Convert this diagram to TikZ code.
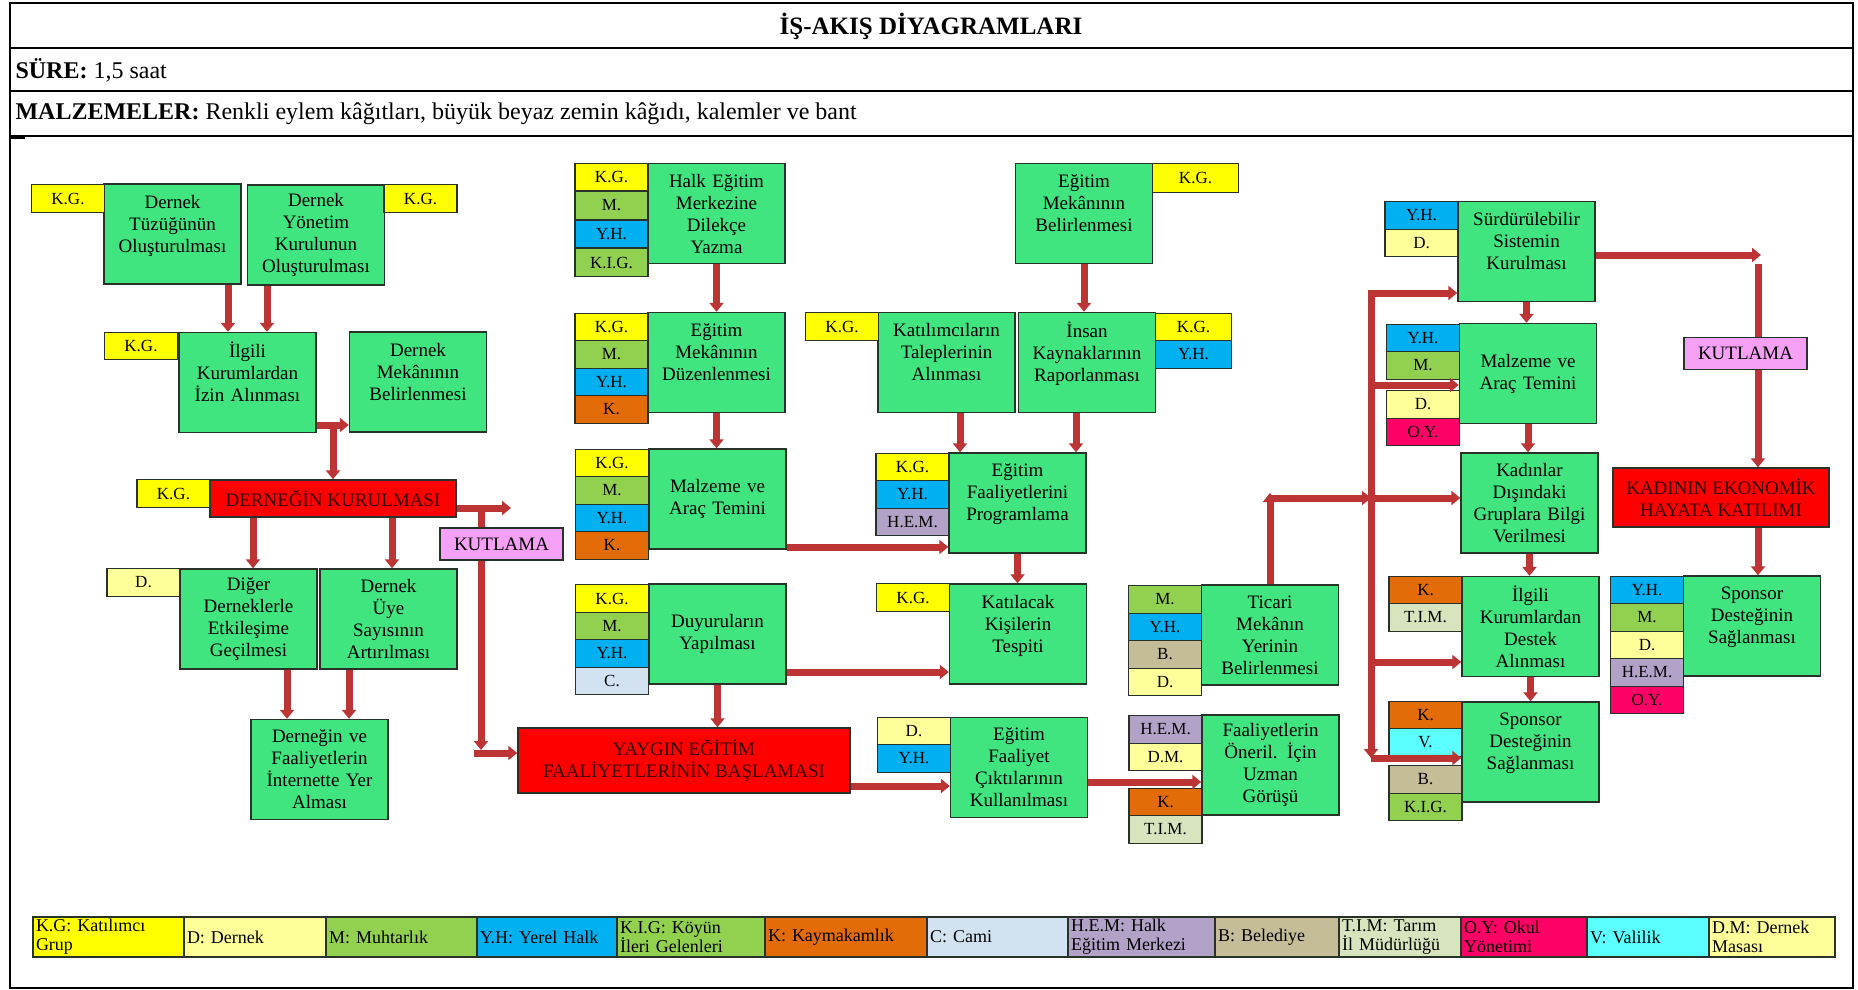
\documentclass[tikz,border=0pt]{standalone}
\usepackage{fontspec}
\setmainfont{Liberation Serif}
\usetikzlibrary{arrows.meta}

\definecolor{actgreen}{RGB}{64,229,128}
\definecolor{kgyel}{RGB}{255,255,0}
\definecolor{dyel}{RGB}{255,255,153}
\definecolor{mgreen}{RGB}{146,208,80}
\definecolor{yhblue}{RGB}{0,176,240}
\definecolor{korange}{RGB}{227,108,9}
\definecolor{ccami}{RGB}{210,226,240}
\definecolor{hemlil}{RGB}{178,162,199}
\definecolor{btan}{RGB}{196,189,151}
\definecolor{timgr}{RGB}{215,228,189}
\definecolor{oypink}{RGB}{255,0,102}
\definecolor{vcyan}{RGB}{91,255,255}
\definecolor{redbox}{RGB}{255,0,0}
\definecolor{goaltext}{RGB}{50,0,0}
\definecolor{kutpink}{RGB}{245,160,245}
\definecolor{flowred}{RGB}{188,52,52}
\definecolor{edge}{RGB}{40,50,40}

\tikzset{
  frame/.style={draw=black, line width=2pt},
  act/.style={draw=edge, line width=1.4pt, fill=actgreen, minimum width=137pt,
    minimum height=100pt, text width=133pt, align=center, inner sep=0pt,
    font=\fontsize{19}{22}\selectfont},
  hi/.style={execute at end node={\rule[-21pt]{0pt}{0pt}}},
  tag/.style={draw=edge, line width=1.4pt, minimum width=73pt, minimum height=27.5pt,
    inner sep=0pt, font=\fontsize{17}{20}\selectfont},
  goal/.style={draw=edge, line width=1.4pt, fill=redbox, align=center, inner sep=0pt,
    text=goaltext, font=\fontsize{19}{22}\selectfont},
  party/.style={draw=edge, line width=1.4pt, fill=kutpink, minimum width=123pt,
    minimum height=32pt, inner sep=0pt, font=\fontsize{19}{22}\selectfont},
  flow/.style={draw=flowred, line width=7pt, -{Triangle[length=9pt,width=14pt]}},
  key/.style={draw=edge, line width=1.2pt, minimum height=40pt, inner xsep=3pt,
    inner ysep=1pt, align=left, font=\fontsize{18}{19}\selectfont},
}

\begin{document}
\begin{tikzpicture}[x=1pt, y=-1pt]
      \useasboundingbox (0,0) rectangle (1858,990);
      % frame and header rows
      \draw[frame] (10,3) rectangle (1853,988);
      \draw[frame] (10,48) -- (1853,48);
      \draw[frame] (10,91) -- (1853,91);
      \draw[frame] (10,136) -- (1853,136);
      \draw[line width=2.5pt] (10,138) -- (25,138);
      \node[font=\bfseries\fontsize{25}{28}\selectfont] (title) at (931,26) {İŞ-AKIŞ DİYAGRAMLARI};
      \node[anchor=west, font=\fontsize{24}{28}\selectfont] (sure) at (12,70) {\textbf{SÜRE:} 1,5 saat};
      \node[anchor=west, font=\fontsize{24}{28}\selectfont] (malzeme) at (12,114)
        {\textbf{MALZEMELER:} Renkli eylem kâğıtları, büyük beyaz zemin kâğıdı, kalemler ve bant};

      % activities
      \node[act, hi] (tuzuk) at (172.5,234) {Dernek\\Tüzüğünün\\Oluşturulması};
      \node[act] (yonetim) at (316,235) {Dernek\\Yönetim\\Kurulunun\\Oluşturulması};
      \node[act, hi] (ilgili) at (247.5,382.5) {İlgili\\Kurumlardan\\İzin Alınması};
      \node[act, hi] (dmekan) at (418,382) {Dernek\\Mekânının\\Belirlenmesi};
      \node[act] (diger) at (248.5,619) {Diğer\\Derneklerle\\Etkileşime\\Geçilmesi};
      \node[act] (uye) at (388.5,619) {Dernek\\Üye\\Sayısının\\Artırılması};
      \node[act] (internet) at (319.5,769.5) {Derneğin ve\\Faaliyetlerin\\İnternette Yer\\Alması};
      \node[act] (halk) at (716.5,213.5) {Halk Eğitim\\Merkezine\\Dilekçe\\Yazma};
      \node[act, hi] (duzen) at (716.5,362.5) {Eğitim\\Mekânının\\Düzenlenmesi};
      \node[act] (malz1) at (717.5,499) {Malzeme ve\\Araç Temini};
      \node[act] (duyuru) at (717.5,634) {Duyuruların\\Yapılması};
      \node[act, hi] (katilim) at (946.5,362.5) {Katılımcıların\\Taleplerinin\\Alınması};
      \node[act, hi] (mekanb) at (1084,213.5) {Eğitim\\Mekânının\\Belirlenmesi};
      \node[act, hi] (insan) at (1087,362.5) {İnsan\\Kaynaklarının\\Raporlanması};
      \node[act, hi] (prog) at (1017.5,503) {Eğitim\\Faaliyetlerini\\Programlama};
      \node[act, hi] (katilacak) at (1018,634) {Katılacak\\Kişilerin\\Tespiti};
      \node[act] (ciktilar) at (1019,767.5) {Eğitim\\Faaliyet\\Çıktılarının\\Kullanılması};
      \node[act] (ticari) at (1270,635) {Ticari\\Mekânın\\Yerinin\\Belirlenmesi};
      \node[act] (oneril) at (1270.5,765) {Faaliyetlerin\\Öneril. İçin\\Uzman\\Görüşü};
      \node[act, hi] (surd) at (1526.5,251.5) {Sürdürülebilir\\Sistemin\\Kurulması};
      \node[act] (malz2) at (1528,373.5) {Malzeme ve\\Araç Temini};
      \node[act] (kadinlar) at (1529.5,503) {Kadınlar\\Dışındaki\\Gruplara Bilgi\\Verilmesi};
      \node[act] (ilgilid) at (1530.5,626.5) {İlgili\\Kurumlardan\\Destek\\Alınması};
      \node[act, hi] (sponsorl) at (1530.5,752) {Sponsor\\Desteğinin\\Sağlanması};
      \node[act, hi] (sponsorr) at (1752,626) {Sponsor\\Desteğinin\\Sağlanması};

      % goals
      \node[goal, minimum width=246pt, minimum height=37pt] (kurul) at (333,498.5) {DERNEĞİN KURULMASI};
      \node[goal, minimum width=332pt, minimum height=65pt] (yaygin) at (684,760.5) {YAYGIN EĞİTİM\\FAALİYETLERİNİN BAŞLAMASI};
      \node[goal, minimum width=216pt, minimum height=59pt] (kadinin) at (1721,497.5) {KADININ EKONOMİK\\HAYATA KATILIMI};

      % participants
      \node[tag, fill=kgyel] (t1) at (68,198.5) {K.G.};
      \node[tag, fill=kgyel] (t2) at (420.5,198.5) {K.G.};
      \node[tag, fill=kgyel] (t3) at (141,346) {K.G.};
      \node[tag, fill=kgyel] (t4) at (173.5,493.5) {K.G.};
      \node[tag, fill=dyel] (t5) at (143.5,582.5) {D.};
      \node[tag, fill=kgyel] (t6) at (611.5,177) {K.G.};
      \node[tag, fill=mgreen] (t7) at (611.5,205.5) {M.};
      \node[tag, fill=yhblue] (t8) at (611.5,234) {Y.H.};
      \node[tag, fill=mgreen] (t9) at (611.5,262.5) {K.I.G.};
      \node[tag, fill=kgyel] (t10) at (611.5,327) {K.G.};
      \node[tag, fill=mgreen] (t11) at (611.5,354.5) {M.};
      \node[tag, fill=yhblue] (t12) at (611.5,382) {Y.H.};
      \node[tag, fill=korange] (t13) at (611.5,409.5) {K.};
      \node[tag, fill=kgyel] (t14) at (612,463) {K.G.};
      \node[tag, fill=mgreen] (t15) at (612,490.5) {M.};
      \node[tag, fill=yhblue] (t16) at (612,518) {Y.H.};
      \node[tag, fill=korange] (t17) at (612,545.5) {K.};
      \node[tag, fill=kgyel] (t18) at (612,598.5) {K.G.};
      \node[tag, fill=mgreen] (t19) at (612,626) {M.};
      \node[tag, fill=yhblue] (t20) at (612,653.5) {Y.H.};
      \node[tag, fill=ccami] (t21) at (612,681) {C.};
      \node[tag, fill=kgyel] (t22) at (842,326.5) {K.G.};
      \node[tag, fill=kgyel, minimum width=86pt, minimum height=29pt] (t23) at (1195.5,178) {K.G.};
      \node[tag, fill=kgyel, minimum width=76pt] (t24) at (1193.5,327) {K.G.};
      \node[tag, fill=yhblue, minimum width=76pt] (t25) at (1193.5,354.5) {Y.H.};
      \node[tag, fill=kgyel] (t26) at (912.5,467) {K.G.};
      \node[tag, fill=yhblue] (t27) at (912.5,494.5) {Y.H.};
      \node[tag, fill=hemlil] (t28) at (912.5,522) {H.E.M.};
      \node[tag, fill=kgyel] (t29) at (913,597.5) {K.G.};
      \node[tag, fill=dyel] (t30) at (914,731) {D.};
      \node[tag, fill=yhblue] (t31) at (914,758.5) {Y.H.};
      \node[tag, fill=mgreen] (t32) at (1165,599.5) {M.};
      \node[tag, fill=yhblue] (t33) at (1165,627) {Y.H.};
      \node[tag, fill=btan] (t34) at (1165,654.5) {B.};
      \node[tag, fill=dyel] (t35) at (1165,682) {D.};
      \node[tag, fill=hemlil] (t36) at (1165.5,729.5) {H.E.M.};
      \node[tag, fill=dyel] (t37) at (1165.5,757) {D.M.};
      \node[tag, fill=korange] (t38) at (1165.5,802) {K.};
      \node[tag, fill=timgr] (t39) at (1165.5,829.5) {T.I.M.};
      \node[tag, fill=yhblue] (t40) at (1421.5,215.5) {Y.H.};
      \node[tag, fill=dyel] (t41) at (1421.5,243) {D.};
      \node[tag, fill=yhblue] (t42) at (1423,338) {Y.H.};
      \node[tag, fill=mgreen] (t43) at (1423,365.5) {M.};
      \node[tag, fill=dyel] (t44) at (1423,404.5) {D.};
      \node[tag, fill=oypink] (t45) at (1423,432) {O.Y.};
      \node[tag, fill=korange] (t46) at (1425.5,590) {K.};
      \node[tag, fill=timgr] (t47) at (1425.5,617.5) {T.I.M.};
      \node[tag, fill=korange] (t48) at (1425.5,715) {K.};
      \node[tag, fill=vcyan] (t49) at (1425.5,742.5) {V.};
      \node[tag, fill=btan] (t50) at (1425.5,779.5) {B.};
      \node[tag, fill=mgreen] (t51) at (1425.5,807) {K.I.G.};
      \node[tag, fill=yhblue] (t52) at (1647,590) {Y.H.};
      \node[tag, fill=mgreen] (t53) at (1647,617.5) {M.};
      \node[tag, fill=dyel] (t54) at (1647,645) {D.};
      \node[tag, fill=hemlil] (t55) at (1647,672.5) {H.E.M.};
      \node[tag, fill=oypink] (t56) at (1647,700) {O.Y.};

      % helper coordinates for the connectors
      \coordinate (v1) at (228,0);
      \coordinate (v2) at (267,0);
      \coordinate (v3) at (253,0);
      \coordinate (v4) at (392,0);
      \coordinate (v5) at (287,0);
      \coordinate (v6) at (349,0);
      \coordinate (v7) at (481,0);
      \coordinate (v8) at (960,0);
      \coordinate (v9) at (1076,0);
      \coordinate (h1) at (0,425);
      \coordinate (h2) at (0,508);
      \coordinate (h4) at (0,547);
      \coordinate (h5) at (0,672);
      \coordinate (h6) at (0,786);
      \coordinate (h7) at (0,782);
      \coordinate (h8) at (0,493);
      \coordinate (h9) at (0,498);
      \coordinate (h10) at (0,385);
      \coordinate (h11) at (0,662);
      \coordinate (kend) at (511,508);
      \coordinate (kdown) at (481,750);
      \coordinate (kin) at (474,753);
      \coordinate (bustop) at (1371,293);
      \coordinate (busend) at (1371,758);
      \coordinate (rt) at (1761,255);
      \coordinate (rv) at (1758,264);

      \begin{scope}[flow]
        \draw (tuzuk.south -| v1) to (ilgili.north -| v1);
        \draw (yonetim.south -| v2) to (ilgili.north -| v2);
        \draw (ilgili.east |- h1) to (dmekan.west |- h1);
        \draw (kurul.north |- h1) to (kurul.north);
        \draw (kurul.south -| v3) to (diger.north -| v3);
        \draw (kurul.south -| v4) to (uye.north -| v4);
        \draw (diger.south -| v5) to (internet.north -| v5);
        \draw (uye.south -| v6) to (internet.north -| v6);
        \draw (kurul.east |- h2) to (kend);
        \draw (v7 |- h2) to (kdown);
        \draw (kin) to (yaygin.west |- kin);
        \draw (halk.south) to (duzen.north);
        \draw (duzen.south) to (duzen.south |- malz1.north);
        \draw (malz1.east |- h4) to (prog.west |- h4);
        \draw (duyuru.east |- h5) to (katilacak.west |- h5);
        \draw (duyuru.south) to (duyuru.south |- yaygin.north);
        \draw (katilim.south -| v8) to (prog.north -| v8);
        \draw (insan.south -| v9) to (prog.north -| v9);
        \draw (mekanb.south) to (mekanb.south |- insan.north);
        \draw (prog.south) to (prog.south |- katilacak.north);
        \draw (yaygin.east |- h6) to (ciktilar.west |- h6);
        \draw (ciktilar.east |- h7) to (oneril.west |- h7);
        \draw (ticari.north) to (ticari.north |- h8);
        \draw (ticari.north |- h9) to (bustop |- h9);
        \draw (bustop) to (busend);
        \draw[line cap=rect] (bustop) to (surd.west |- bustop);
        \draw (bustop |- h10) to (malz2.west |- h10);
        \draw (bustop |- h9) to (kadinlar.west |- h9);
        \draw (bustop |- h11) to (ilgilid.west |- h11);
        \draw (busend) to (sponsorl.west |- busend);
        \draw (surd.south) to (surd.south |- malz2.north);
        \draw (malz2.south) to (malz2.south |- kadinlar.north);
        \draw (kadinlar.south) to (kadinlar.south |- ilgilid.north);
        \draw (ilgilid.south) to (ilgilid.south |- sponsorl.north);
        \draw (surd.east |- rt) to (rt);
        \draw (rv) to (rv |- kadinin.north);
        \draw (kadinin.south -| rv) to (sponsorr.north -| rv);
      \end{scope}

      % celebrations sit on top of the lines
      \node[party] (kut1) at (501.5,544) {KUTLAMA};
      \node[party] (kut2) at (1745.5,353.5) {KUTLAMA};

      % legend
      \node[key, fill=kgyel, text width=145pt] (l1) at (108.5,937) {K.G: Katılımcı\\Grup};
      \node[key, fill=dyel, text width=136pt] (l2) at (255,937) {D: Dernek};
      \node[key, fill=mgreen, text width=145pt] (l3) at (401.5,937) {M: Muhtarlık};
      \node[key, fill=yhblue, text width=134pt] (l4) at (547,937) {Y.H: Yerel Halk};
      \node[key, fill=mgreen, text width=142pt] (l5) at (691,937) {K.I.G: Köyün\\İleri Gelenleri};
      \node[key, fill=korange, text width=156pt] (l6) at (846,937) {K: Kaymakamlık};
      \node[key, fill=ccami, text width=135pt] (l7) at (997.5,937) {C: Cami};
      \node[key, fill=hemlil, text width=141pt] (l8) at (1141.5,937) {H.E.M: Halk\\Eğitim Merkezi};
      \node[key, fill=btan, text width=118pt] (l9) at (1277,937) {B: Belediye};
      \node[key, fill=timgr, text width=116pt] (l10) at (1400,937) {T.I.M: Tarım\\İl Müdürlüğü};
      \node[key, fill=oypink, text width=120pt] (l11) at (1524,937) {O.Y: Okul\\Yönetimi};
      \node[key, fill=vcyan, text width=116pt] (l12) at (1648,937) {V: Valilik};
      \node[key, fill=dyel, text width=120pt] (l13) at (1772,937) {D.M: Dernek\\Masası};
    \end{tikzpicture}
\end{document}
